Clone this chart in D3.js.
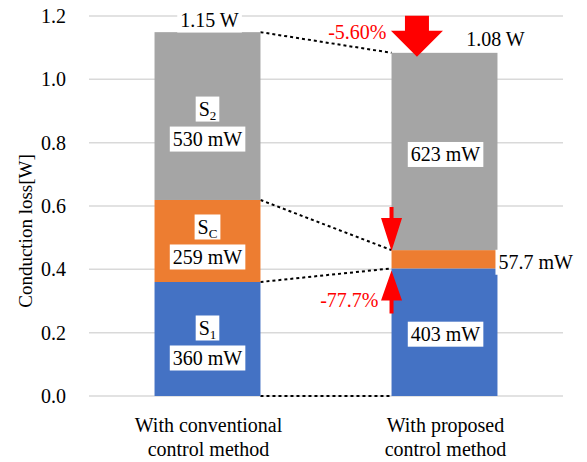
<!DOCTYPE html>
<html><head><meta charset="utf-8">
<script src="https://cdn.jsdelivr.net/npm/d3@7"></script>
<style>body{margin:0;background:#fff}svg{display:block}</style>
</head><body><svg id="c" width="587" height="462"></svg>
<script>
const categories = [["With conventional","control method"],["With proposed","control method"]];
const s1 = [0.360, 0.403];
const sc = [0.259, 0.0577];
const s2 = [0.530, 0.623];
const totalLabels = ["1.15 W", "1.08 W"];
const s1Labels = ["360 mW", "403 mW"];
const scLabels = ["259 mW", "57.7 mW"];
const s2Labels = ["530 mW", "623 mW"];
const changeLabels = ["-5.60%", "-77.7%"];
const yTicks = [0, 0.2, 0.4, 0.6, 0.8, 1.0, 1.2];

const FONT = "'Liberation Serif', 'Times New Roman', serif";
const colors = {s1:"#4472c4", sc:"#ed7d31", s2:"#a5a5a5", red:"#ff0000"};
const svg = d3.select("#c");
const L = 89, R = 563, T = 16, B = 396;
const y = d3.scaleLinear().domain([0, 1.2]).range([B, T]);
const x = d3.scaleBand().domain([0,1]).range([L, R]).paddingInner(0.553).paddingOuter(0.2765);
const bw = x.bandwidth();
function txt(sel){ return sel.append("text").style("font-family", FONT, "important"); }

svg.append("g").selectAll("line").data(yTicks).join("line")
  .attr("x1", L).attr("x2", R).attr("y1", d=>y(d)).attr("y2", d=>y(d))
  .attr("stroke", "#d9d9d9").attr("stroke-width", 1.5);
svg.append("g").selectAll("text").data(yTicks).join("text").style("font-family", FONT, "important")
  .attr("x", 66).attr("y", d=>y(d)+7).attr("text-anchor","end")
  .attr("font-size", 20).attr("fill","#000").text(d=>d.toFixed(1));
txt(svg).attr("transform","translate(32,231) rotate(-90)").attr("text-anchor","middle")
  .attr("font-size", 19).text("Conduction loss[W]");

const stacks = [0,1].map(i => [
  {key:"s1", y0:0, y1:s1[i]},
  {key:"sc", y0:s1[i], y1:s1[i]+sc[i]},
  {key:"s2", y0:s1[i]+sc[i], y1:s1[i]+sc[i]+s2[i]}
]);

const g0 = stacks[0], g1 = stacks[1];
const conn = [[0,0],[g0[0].y1,g1[0].y1],[g0[1].y1,g1[1].y1],[g0[2].y1,g1[2].y1]];
svg.append("g").selectAll("line").data(conn).join("line")
  .attr("x1", x(0)+bw).attr("x2", x(1))
  .attr("y1", d=>y(d[0])).attr("y2", d=>y(d[1]))
  .attr("stroke","#000").attr("stroke-width",2).attr("stroke-dasharray","3,3");

stacks.forEach((st,i) => {
  svg.append("g").selectAll("rect").data(st).join("rect")
    .attr("x", x(i)).attr("width", bw)
    .attr("y", d=>y(d.y1)).attr("height", d=>y(d.y0)-y(d.y1))
    .attr("fill", d=>colors[d.key]);
});

function boxedText(g, cx, cy, parts, anchor) {
  const t = txt(g).attr("x", cx).attr("y", cy+7).attr("text-anchor", anchor||"middle").attr("font-size",20);
  parts.forEach(p => {
    const ts = t.append("tspan").text(p.t);
    if (p.sub) ts.attr("font-size", 13).attr("dy", 4);
  });
  const bb = t.node().getBBox();
  g.insert("rect", "text").attr("x", bb.x-3).attr("y", cy-12.5).attr("width", bb.width+6).attr("height", 25).attr("fill","#fff");
  return t;
}
const lab = svg.append("g");
function lbl(cx, cy, parts, anchor){ const g = lab.append("g"); boxedText(g, cx, cy, parts, anchor); }

const c0 = x(0)+bw/2, c1 = x(1)+bw/2;
let m;
m = y((g0[2].y0+g0[2].y1)/2)+8;
lbl(c0, m-15, [{t:"S"},{t:"2",sub:true}]); lbl(c0, m+15, [{t:s2Labels[0]}]);
m = y((g0[1].y0+g0[1].y1)/2)+1;
lbl(c0, m-15, [{t:"S"},{t:"C",sub:true}]); lbl(c0, m+15, [{t:scLabels[0]}]);
m = y((g0[0].y0+g0[0].y1)/2)+4;
lbl(c0, m-15, [{t:"S"},{t:"1",sub:true}]); lbl(c0, m+15, [{t:s1Labels[0]}]);
lbl(c1+1, y((g1[2].y0+g1[2].y1)/2)+3, [{t:s2Labels[1]}]);
lbl(c1+1, y((g1[0].y0+g1[0].y1)/2)+2, [{t:s1Labels[1]}]);
lbl(x(1)+bw+1, y((g1[1].y0+g1[1].y1)/2)+3, [{t:scLabels[1]}], "start");
lbl(c0+2, y(1.2)+4, [{t:totalLabels[0]}]);
txt(svg).attr("x", c1+51).attr("y", y(g1[2].y1)-7).attr("text-anchor","middle").attr("font-size",20).text(totalLabels[1]);

function arrow(cx, tipY, dir, shaftW, headW, headL, len) {
  const base = tipY - dir*headL, end = tipY - dir*len;
  const p = [[cx-shaftW/2,end],[cx+shaftW/2,end],[cx+shaftW/2,base],[cx+headW/2,base],[cx,tipY],[cx-headW/2,base],[cx-shaftW/2,base]];
  svg.append("path").attr("d", d3.line()(p)+"Z").attr("fill", colors.red);
}
const tot1 = g1[2].y1;
arrow(x(1)+bw*0.24, y(tot1)+4, 1, 24, 52, 26, 41);
arrow(x(1), y(g1[1].y1)+1, 1, 4, 21, 33, 44);
arrow(x(1), y(g1[0].y1)+2, -1, 4, 21, 30, 43);
txt(svg).attr("x", x(1)-5).attr("y", y(tot1)-14).attr("text-anchor","end").attr("font-size",20).attr("fill",colors.red).text(changeLabels[0]);
txt(svg).attr("x", x(1)-13).attr("y", y(g1[0].y1)+39).attr("text-anchor","end").attr("font-size",20).attr("fill",colors.red).text(changeLabels[1]);

categories.forEach((c,i) => {
  const t = txt(svg).attr("x", x(i)+bw/2+1).attr("y", 432).attr("text-anchor","middle").attr("font-size",20);
  c.forEach((line,j) => t.append("tspan").attr("x", x(i)+bw/2+1).attr("dy", j?24:0).text(line));
});
</script></body></html>
